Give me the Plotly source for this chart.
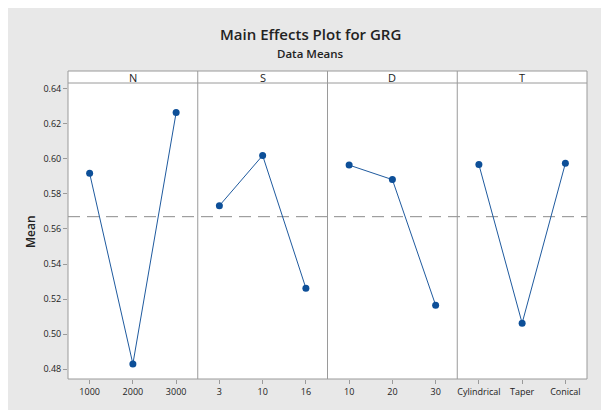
import numpy as np
import plotly.graph_objects as go

# ---- data ----
factors = ["N", "S", "D", "T"]
levels_N = ["1000", "2000", "3000"]
levels_S = ["3", "10", "16"]
levels_D = ["10", "20", "30"]
levels_T = ["Cylindrical", "Taper", "Conical"]
means_N = [0.5918, 0.4829, 0.6265]
means_S = [0.5733, 0.6020, 0.5262]
means_D = [0.5965, 0.5882, 0.5165]
means_T = [0.5968, 0.5062, 0.5975]
y_ticks = [0.48, 0.50, 0.52, 0.54, 0.56, 0.58, 0.60, 0.62, 0.64]

levels = [levels_N, levels_S, levels_D, levels_T]
means = [means_N, means_S, means_D, means_T]
grand_mean = float(np.mean(means_N + means_S + means_D + means_T))

# page has an 8px body margin, so the figure is drawn offset by 8px
OFF = 8
W, H = 609 - OFF, 410 - OFF
L, R, T, B = 68 - OFF, 22, 83 - OFF, 31
PW = W - L - R
PH = H - T - B

def px(x):  # page pixel -> paper x
    return (x - OFF - L) / PW

def py(y):  # page pixel -> paper y
    return (H - B - (y - OFF)) / PH

FONT = "Open Sans"
LINE_C = "#1f5a9e"
MARK_C = "#0d4f98"
FRAME_C = "#9a9a9a"
TXT = "#222222"

fig = go.Figure()
for i, (lv, mv) in enumerate(zip(levels, means)):
    ax = "x" if i == 0 else f"x{i+1}"
    fig.add_trace(go.Scatter(
        x=lv, y=mv, mode="lines+markers", xaxis=ax, yaxis="y",
        line=dict(color=LINE_C, width=1),
        marker=dict(color=MARK_C, size=7, symbol="circle"),
        showlegend=False, hoverinfo="x+y",
    ))

layout = dict(
    width=W, height=H,
    margin=dict(l=L, r=R, t=T, b=B),
    paper_bgcolor="#e8e8e8",
    plot_bgcolor="white",
    font=dict(family=FONT, size=9, color=TXT),
    yaxis=dict(
        range=[0.4743, 0.6434], tickvals=y_ticks, tickformat=".2f",
        ticks="outside", ticklen=4, tickcolor=FRAME_C,
        showgrid=False, zeroline=False, showline=False,
        tickfont=dict(size=9, color=TXT), anchor="x",
    ),
)
for i, lv in enumerate(levels):
    key = "xaxis" if i == 0 else f"xaxis{i+1}"
    layout[key] = dict(
        domain=[i * 0.25, (i + 1) * 0.25], anchor="y",
        type="category", categoryorder="array", categoryarray=lv,
        range=[-0.5, 2.5],
        ticks="outside", ticklen=4, tickcolor=FRAME_C,
        showgrid=False, zeroline=False, showline=False,
        tickfont=dict(size=9, color=TXT),
    )
fig.update_layout(**layout)

shapes = []
# plot area (incl. strip) white
shapes.append(dict(type="rect", xref="paper", yref="paper",
                   x0=0, x1=1, y0=0, y1=py(71),
                   fillcolor="white", line=dict(width=0), layer="below"))
# grand mean dashed line
shapes.append(dict(type="line", xref="paper", yref="y",
                   x0=0, x1=1, y0=grand_mean, y1=grand_mean,
                   line=dict(color="#8c8c8c", width=1, dash="12px,7px"),
                   layer="below"))
# frame
shapes.append(dict(type="rect", xref="paper", yref="paper",
                   x0=0, x1=1, y0=0, y1=py(71),
                   line=dict(color=FRAME_C, width=1)))
shapes.append(dict(type="line", xref="paper", yref="paper",
                   x0=0, x1=1, y0=1, y1=1,
                   line=dict(color=FRAME_C, width=1)))
for k in (0.25, 0.5, 0.75):
    shapes.append(dict(type="line", xref="paper", yref="paper",
                       x0=k, x1=k, y0=0, y1=py(71),
                       line=dict(color=FRAME_C, width=1)))
fig.update_layout(shapes=shapes)

ann = []
for i, f in enumerate(factors):
    ann.append(dict(text=f, xref="paper", yref="paper",
                    x=i * 0.25 + 0.125, y=py(77), showarrow=False,
                    xanchor="center", yanchor="middle",
                    font=dict(size=11, color=TXT, family=FONT, weight=500)))
ann.append(dict(text="Main Effects Plot for GRG", xref="paper", yref="paper",
                x=px(310), y=py(34), showarrow=False, xanchor="center", yanchor="middle",
                font=dict(size=15, color=TXT, family=FONT, weight=600)))
ann.append(dict(text="Data Means", xref="paper", yref="paper",
                x=px(310), y=py(53), showarrow=False, xanchor="center", yanchor="middle",
                font=dict(size=11.5, color=TXT, family=FONT, weight=600)))
ann.append(dict(text="Mean", xref="paper", yref="paper",
                x=px(30), y=py(232), showarrow=False, xanchor="center", yanchor="middle",
                textangle=-90, font=dict(size=12, color=TXT, family=FONT, weight=600)))
fig.update_layout(annotations=ann)

fig.write_html("out.html")
